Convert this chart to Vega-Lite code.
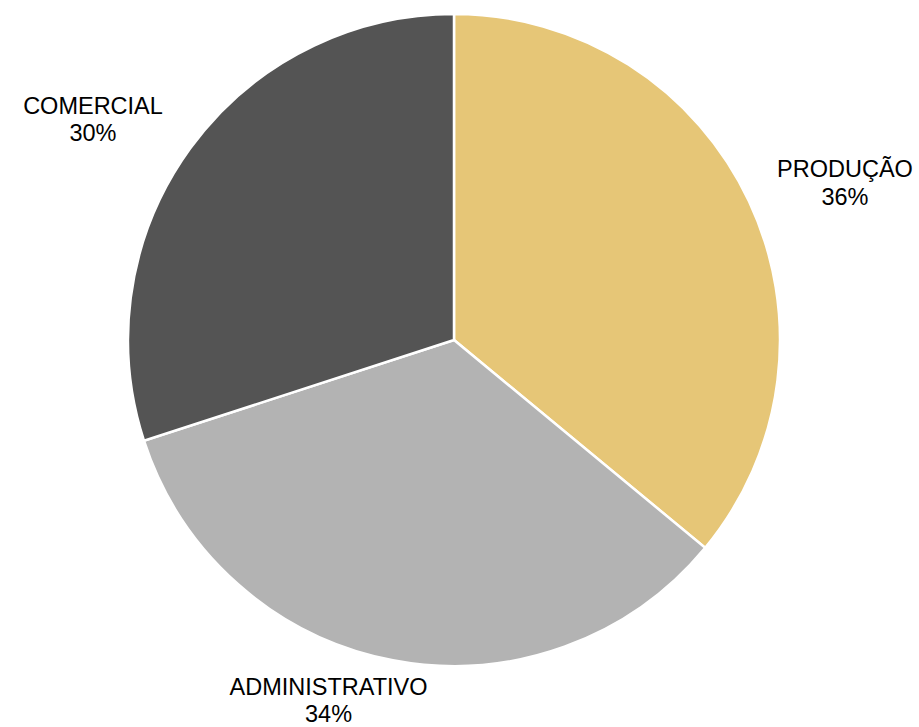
{
  "$schema": "https://vega.github.io/schema/vega-lite/v6.json",
  "width": 908,
  "height": 680,
  "padding": 0,
  "background": "white",
  "config": {"view": {"stroke": null}, "text": {"font": "Liberation Sans", "fontSize": 23.5, "color": "#000000", "baseline": "middle", "align": "center"}},
  "data": {
    "values": [
      {"setor": "PRODUÇÃO", "pct": 0.36, "ordem": 1},
      {"setor": "ADMINISTRATIVO", "pct": 0.34, "ordem": 2},
      {"setor": "COMERCIAL", "pct": 0.30, "ordem": 3}
    ]
  },
  "encoding": {
    "theta": {"field": "pct", "type": "quantitative", "stack": true},
    "order": {"field": "ordem", "type": "quantitative"}
  },
  "layer": [
    {
      "mark": {"type": "arc", "outerRadius": 326, "stroke": "white", "strokeWidth": 2.5},
      "encoding": {
        "color": {
          "field": "setor",
          "type": "nominal",
          "scale": {"domain": ["PRODUÇÃO", "ADMINISTRATIVO", "COMERCIAL"], "range": ["#E6C677", "#B3B3B3", "#545454"]},
          "legend": null
        }
      }
    },
    {
      "mark": {"type": "text", "radius": 400, "dx": 29, "dy": 0},
      "encoding": {"text": {"condition": {"test": "datum.setor == 'PRODUÇÃO'", "field": "setor"}, "value": ""}}
    },
    {
      "mark": {"type": "text", "radius": 400, "dx": 29, "dy": 28},
      "encoding": {"text": {"condition": {"test": "datum.setor == 'PRODUÇÃO'", "field": "pct", "format": ".0%"}, "value": ""}}
    },
    {
      "mark": {"type": "text", "radius": 400, "dx": -50.5, "dy": -45},
      "encoding": {"text": {"condition": {"test": "datum.setor == 'ADMINISTRATIVO'", "field": "setor"}, "value": ""}}
    },
    {
      "mark": {"type": "text", "radius": 400, "dx": -50.5, "dy": -18},
      "encoding": {"text": {"condition": {"test": "datum.setor == 'ADMINISTRATIVO'", "field": "pct", "format": ".0%"}, "value": ""}}
    },
    {
      "mark": {"type": "text", "radius": 400, "dx": -37.4, "dy": 1.8},
      "encoding": {"text": {"condition": {"test": "datum.setor == 'COMERCIAL'", "field": "setor"}, "value": ""}}
    },
    {
      "mark": {"type": "text", "radius": 400, "dx": -37.4, "dy": 29.5},
      "encoding": {"text": {"condition": {"test": "datum.setor == 'COMERCIAL'", "field": "pct", "format": ".0%"}, "value": ""}}
    }
  ]
}
